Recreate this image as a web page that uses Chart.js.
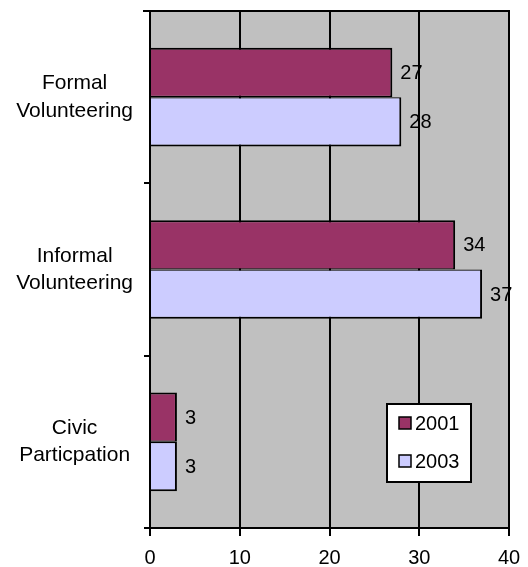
<!DOCTYPE html>
<html><head><meta charset="utf-8">
<script src="https://cdn.jsdelivr.net/npm/chart.js@4/dist/chart.umd.min.js"></script>
<style>html,body{margin:0;padding:0;background:#fff}</style>
</head><body>
<canvas id="c" width="528" height="567"></canvas>
<script>
const categories = [['Formal','Volunteering'],['Informal','Volunteering'],['Civic','Particpation']];
const seriesNames = ['2001','2003'];
const values2001 = [27, 34, 3];
const values2003 = [28, 37, 3];
const xTicks = [0, 10, 20, 30, 40];
const seriesColors = ['#993366', '#CCCCFF'];

const FONT = '"Liberation Sans", Arial, sans-serif';

const bgPlugin = {
  id: 'bg',
  beforeDraw(chart) {
    const a = chart.chartArea, ctx = chart.ctx;
    ctx.save();
    ctx.fillStyle = '#c0c0c0';
    ctx.fillRect(a.left, a.top, a.right - a.left, a.bottom - a.top);
    ctx.restore();
  },
  beforeDatasetsDraw(chart) {
    const a = chart.chartArea, ctx = chart.ctx;
    ctx.save();
    ctx.strokeStyle = '#000';
    ctx.lineWidth = 2;
    ctx.beginPath();
    ctx.moveTo(a.left - 7, a.top);
    ctx.lineTo(a.right, a.top);
    ctx.lineTo(a.right, a.bottom);
    ctx.stroke();
    ctx.restore();
  }
};

const labelPlugin = {
  id: 'vals',
  afterDatasetsDraw(chart) {
    const ctx = chart.ctx;
    ctx.save();
    ctx.font = '20px ' + FONT;
    ctx.fillStyle = '#000';
    ctx.textAlign = 'left';
    ctx.textBaseline = 'middle';
    chart.data.datasets.forEach((ds, i) => {
      const meta = chart.getDatasetMeta(i);
      meta.data.forEach((el, j) => {
        ctx.fillText(String(ds.data[j]), el.x + 8, el.y + 1);
      });
    });
    ctx.restore();
  }
};

const legendPlugin = {
  id: 'customLegend',
  afterDraw(chart) {
    const ctx = chart.ctx;
    const left = 387, top = 404, w = 84, h = 78;
    ctx.save();
    ctx.fillStyle = '#fff';
    ctx.fillRect(left, top, w, h);
    ctx.strokeStyle = '#000';
    ctx.lineWidth = 2;
    ctx.strokeRect(left, top, w, h);
    ctx.font = '20px ' + FONT;
    ctx.textBaseline = 'middle';
    ctx.textAlign = 'left';
    const rows = [423, 461];
    chart.data.datasets.forEach((ds, i) => {
      const cy = rows[i];
      ctx.fillStyle = ds.backgroundColor;
      ctx.fillRect(399, cy - 6, 12, 12);
      ctx.lineWidth = 1.5;
      ctx.strokeStyle = '#000';
      ctx.strokeRect(399, cy - 6, 12, 12);
      ctx.fillStyle = '#000';
      ctx.fillText(ds.label, 415, cy + 1);
    });
    ctx.restore();
  }
};

new Chart(document.getElementById('c'), {
  type: 'bar',
  data: {
    labels: categories,
    datasets: [
      { label: seriesNames[0], data: values2001, backgroundColor: seriesColors[0], borderColor: '#000', borderWidth: { top: 2, right: 2, bottom: 1.3, left: 0 }, borderSkipped: 'start', categoryPercentage: 0.573, barPercentage: 1.0 },
      { label: seriesNames[1], data: values2003, backgroundColor: seriesColors[1], borderColor: '#000', borderWidth: { top: 1.3, right: 2, bottom: 2, left: 0 }, borderSkipped: 'start', categoryPercentage: 0.573, barPercentage: 1.0 }
    ]
  },
  options: {
    indexAxis: 'y',
    responsive: false,
    animation: false,
    layout: { padding: { top: 11, right: 19, left: 0, bottom: 0 } },
    plugins: { legend: { display: false }, tooltip: { enabled: false } },
    scales: {
      x: {
        min: xTicks[0], max: xTicks[xTicks.length - 1],
        afterBuildTicks(scale) { scale.ticks = xTicks.map(v => ({ value: v })); },
        afterFit(scale) { scale.height = 39; scale.paddingLeft = 0; scale.paddingRight = 0; },
        grid: { color: '#000', lineWidth: 2, drawOnChartArea: true, drawTicks: true, tickLength: 8, tickColor: '#000' },
        border: { display: true, color: '#000', width: 2 },
        ticks: { color: '#000', font: { family: FONT, size: 20 }, padding: 10, maxRotation: 0 }
      },
      y: {
        afterFit(scale) { scale.width = 150; scale.paddingTop = 0; scale.paddingBottom = 0; },
        grid: { display: true, drawOnChartArea: false, drawTicks: true, tickLength: 6, color: '#000', lineWidth: 2, offset: true },
        border: { display: true, color: '#000', width: 2 },
        ticks: { color: '#000', font: { family: FONT, size: 21, lineHeight: 1.31 }, crossAlign: 'center', padding: 11 }
      }
    }
  },
  plugins: [bgPlugin, labelPlugin, legendPlugin]
});
</script>
</body></html>
